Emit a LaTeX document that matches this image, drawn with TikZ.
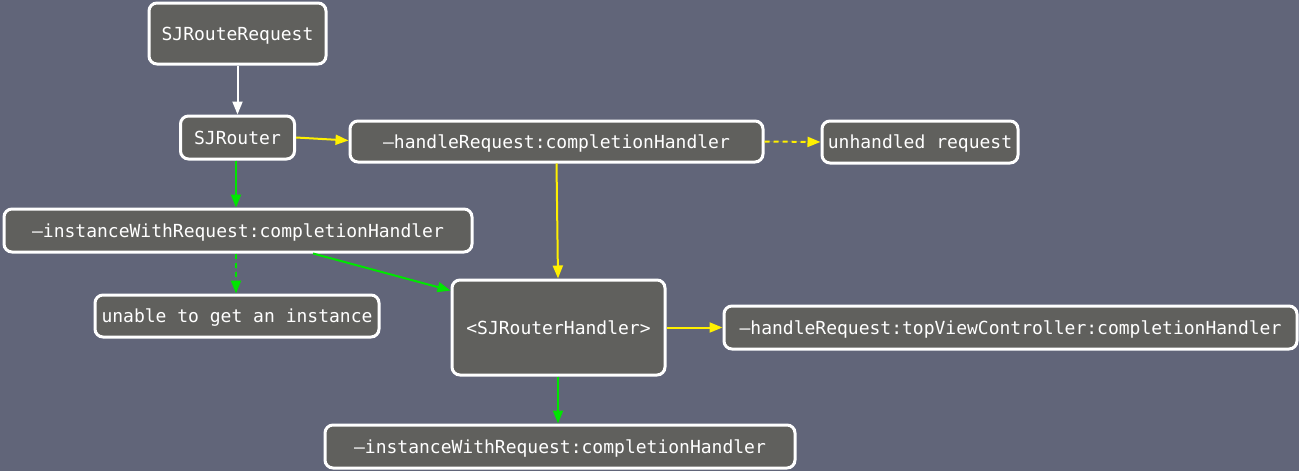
\documentclass[tikz,border=0pt]{standalone}
\usepackage{fontspec}
\newfontfamily\monofnt{DejaVu Sans Mono}
\usetikzlibrary{arrows.meta}
\definecolor{bgc}{RGB}{97,101,121}
\definecolor{boxc}{RGB}{96,96,93}
\definecolor{ylw}{RGB}{255,240,0}
\definecolor{grn}{RGB}{0,230,0}
\tikzset{
  box/.style={draw=white, fill=boxc, line width=3pt, rounded corners=8pt,
    text=white, font=\monofnt\fontsize{18}{20}\selectfont, inner sep=0pt,
    text height=13pt, text depth=0pt, anchor=center},
  arr/.style={line width=2pt, -{Triangle[length=13pt,width=10pt]}},
  wht/.style={arr, draw=white, fill=white},
  yel/.style={arr, draw=ylw, fill=ylw},
  gre/.style={arr, draw=grn, fill=grn},
  dsh/.style={dash pattern=on 5pt off 4pt},
}
\begin{document}
\begin{tikzpicture}[x=1pt,y=-1pt]
\fill[bgc] (0,0) rectangle (1299,471);
\useasboundingbox (0,0) rectangle (1299,471);
\node[box, minimum width=177pt, minimum height=61pt] (req) at (237.5,33.5) {SJRouteRequest};
\node[box, minimum width=114pt, minimum height=43pt] (rt) at (237.5,137.5) {SJRouter};
\node[box, minimum width=413pt, minimum height=41pt] (hr) at (556.5,141.5) {–handleRequest:completionHandler};
\node[box, minimum width=196pt, minimum height=42pt] (un) at (920,142) {unhandled request};
\node[box, minimum width=468pt, minimum height=43pt] (iw) at (238,230.5) {–instanceWithRequest:completionHandler};
\node[box, minimum width=284pt, minimum height=42pt] (ug) at (237,316) {unable to get an instance};
\node[box, minimum width=213pt, minimum height=95pt] (hd) at (558.5,327.5) {<SJRouterHandler>};
\node[box, minimum width=573pt, minimum height=43pt] (tv) at (1010.5,327.5) {–handleRequest:topViewController:completionHandler};
\node[box, minimum width=470pt, minimum height=43pt] (iw2) at (560,446.5) {–instanceWithRequest:completionHandler};

\draw[wht] (req.south) -- (rt.north);
\draw[yel] (rt.east) -- ([yshift=1pt]hr.west);
\draw[yel, dsh] (hr.east) -- (un.west);
\draw[yel] (hr.south) -- ([xshift=-0.5pt]hd.north);
\draw[gre] ([xshift=-1.5pt]rt.south) -- ([xshift=-2pt]iw.north);
\draw[gre, dsh] ([xshift=-2pt]iw.south) -- ([xshift=-1pt]ug.north);
\draw[gre] ([xshift=75pt]iw.south) -- ([yshift=-12pt]hd.north west);
\draw[yel] (hd.east) -- (tv.west);
\draw[gre] ([xshift=-0.5pt]hd.south) -- ([xshift=-2pt]iw2.north);
\end{tikzpicture}
\end{document}
